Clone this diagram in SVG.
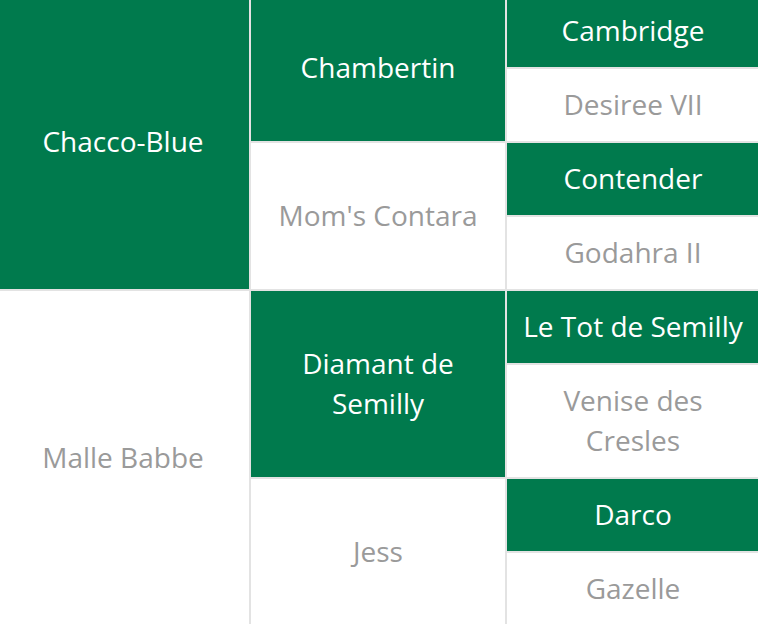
<svg xmlns="http://www.w3.org/2000/svg" width="758" height="624" viewBox="0 0 758 624">
<style>
.g{fill:#007a4d}
.w{fill:#ffffff}
.ln{stroke:#e3e3e3;stroke-width:2;fill:none}
text{font-family:"Open Sans","Liberation Sans",sans-serif;font-size:28px;text-anchor:middle}
.tw{fill:#ffffff}
.tg{fill:#9a9a9a}
</style>
<rect x="0" y="0" width="758" height="624" fill="#ffffff"/>
<g id="chacco-blue"><rect class="g" x="0" y="0" width="249" height="289"/><text class="tw" x="123" y="152">Chacco-Blue</text></g>
<g id="malle-babbe"><rect class="w" x="0" y="291" width="249" height="333"/><text class="tg" x="123" y="468">Malle Babbe</text></g>
<g id="chambertin"><rect class="g" x="251" y="0" width="254" height="141"/><text class="tw" x="378" y="78">Chambertin</text></g>
<g id="moms-contara"><rect class="w" x="251" y="143" width="254" height="146"/><text class="tg" x="378" y="226">Mom's Contara</text></g>
<g id="diamant"><rect class="g" x="251" y="291" width="254" height="186"/><text class="tw" x="378" y="374">Diamant de</text><text class="tw" x="378" y="414">Semilly</text></g>
<g id="jess"><rect class="w" x="251" y="479" width="254" height="145"/><text class="tg" x="378" y="562">Jess</text></g>
<g id="cambridge"><rect class="g" x="507" y="0" width="251" height="67"/><text class="tw" x="633" y="41">Cambridge</text></g>
<g id="desiree"><rect class="w" x="507" y="69" width="251" height="72"/><text class="tg" x="633" y="115">Desiree VII</text></g>
<g id="contender"><rect class="g" x="507" y="143" width="251" height="72"/><text class="tw" x="633" y="189">Contender</text></g>
<g id="godahra"><rect class="w" x="507" y="217" width="251" height="72"/><text class="tg" x="633" y="263">Godahra II</text></g>
<g id="le-tot"><rect class="g" x="507" y="291" width="251" height="72"/><text class="tw" x="633" y="337">Le Tot de Semilly</text></g>
<g id="venise"><rect class="w" x="507" y="365" width="251" height="112"/><text class="tg" x="633" y="411">Venise des</text><text class="tg" x="633" y="451">Cresles</text></g>
<g id="darco"><rect class="g" x="507" y="479" width="251" height="72"/><text class="tw" x="633" y="525">Darco</text></g>
<g id="gazelle"><rect class="w" x="507" y="553" width="251" height="71"/><text class="tg" x="633" y="599">Gazelle</text></g>
<g id="connectors" class="ln">
<line x1="250" y1="0" x2="250" y2="624"/>
<line x1="506" y1="0" x2="506" y2="624"/>
<line x1="0" y1="290" x2="758" y2="290"/>
<line x1="250" y1="142" x2="758" y2="142"/>
<line x1="250" y1="478" x2="758" y2="478"/>
<line x1="506" y1="68" x2="758" y2="68"/>
<line x1="506" y1="216" x2="758" y2="216"/>
<line x1="506" y1="364" x2="758" y2="364"/>
<line x1="506" y1="552" x2="758" y2="552"/>
</g>
</svg>
